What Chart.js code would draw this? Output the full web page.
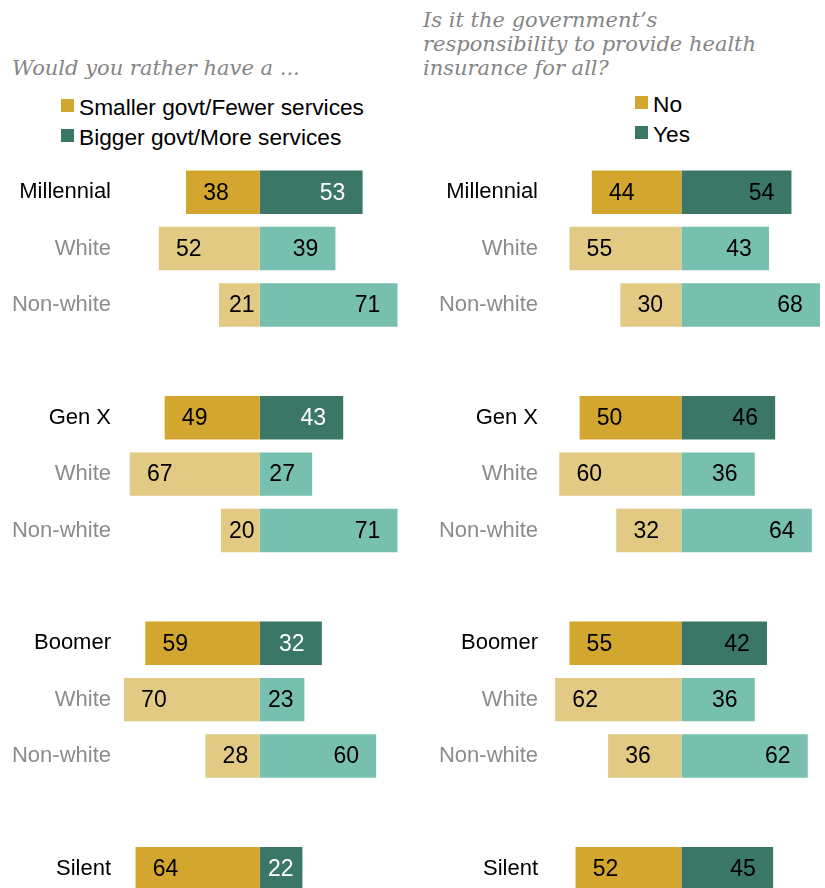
<!DOCTYPE html>
<html>
<head>
<meta charset="utf-8">
<script src="https://cdn.jsdelivr.net/npm/chart.js@4/dist/chart.umd.min.js"></script>
<style>
  html, body { margin:0; padding:0; background:#fff; overflow:hidden; }
  #wrap { position:relative; width:825px; height:888px; overflow:hidden; background:#fff; }
  .title { position:absolute; font-family:"DejaVu Serif", Georgia, serif; font-style:italic; font-size:21px; line-height:24px; color:#858585; white-space:nowrap; }
  .legend { position:absolute; font-family:"Liberation Sans", Arial, sans-serif; font-size:22.7px; line-height:30px; color:#000; white-space:nowrap; }
  .legend .row { position:relative; height:30px; padding-left:18px; }
  .legend .sw { position:absolute; left:0; top:7px; width:13px; height:13px; }
  .cv { position:absolute; top:0; }
</style>
</head>
<body>
<div id="wrap">
  <div class="title" style="left:12px; top:56px;">Would you rather have a ...</div>
  <div class="title" style="left:423px; top:8px;">Is it the government’s<br>responsibility to provide health<br>insurance for all?</div>
  <div class="legend" id="leg1" style="left:61px; top:92px;"></div>
  <div class="legend" id="leg2" style="left:635px; top:89px;"></div>
  <canvas id="c1" class="cv" style="left:0px;" width="420" height="920"></canvas>
  <canvas id="c2" class="cv" style="left:420px;" width="405" height="920"></canvas>
</div>
<script>
// ---- Data ----
const categories = ["Millennial","White","Non-white","","Gen X","White","Non-white","","Boomer","White","Non-white","","Silent"];
const generations = ["Millennial","Gen X","Boomer","Silent"];
const leftSeries = ["Smaller govt/Fewer services","Bigger govt/More services"];
const smallerGovt = [38,52,21,null,49,67,20,null,59,70,28,null,64];
const biggerGovt  = [53,39,71,null,43,27,71,null,32,23,60,null,22];
const rightSeries = ["No","Yes"];
const healthNo  = [44,55,30,null,50,60,32,null,55,62,36,null,52];
const healthYes = [54,43,68,null,46,36,64,null,42,36,62,null,45];

// ---- Styles ----
const GOLD_DARK = "#D2A62F", GOLD_LIGHT = "#E2CA84";
const GREEN_DARK = "#3A7767", GREEN_LIGHT = "#77BFAF";
const isGen = i => generations.includes(categories[i]);

function buildLegend(el, names, colors) {
  el.innerHTML = names.map((n,i) =>
    `<div class="row"><span class="sw" style="background:${colors[i]}"></span>${n}</div>`).join("");
}
buildLegend(document.getElementById("leg1"), leftSeries, [GOLD_DARK, GREEN_DARK]);
buildLegend(document.getElementById("leg2"), rightSeries, [GOLD_DARK, GREEN_DARK]);

const valueLabels = {
  id: "valueLabels",
  afterDatasetsDraw(chart, args, opts) {
    const ctx = chart.ctx;
    const xs = chart.scales.x;
    const zero = xs.getPixelForValue(0);
    ctx.save();
    ctx.font = '23px "Liberation Sans", Arial, sans-serif';
    ctx.textAlign = "center";
    ctx.textBaseline = "middle";
    chart.data.datasets.forEach((ds, di) => {
      const meta = chart.getDatasetMeta(di);
      meta.data.forEach((el, i) => {
        const v = ds.data[i];
        if (v === null || v === undefined) return;
        let cx;
        if (v < 0) {
          cx = Math.min(el.x + 30, zero - 18);
        } else {
          cx = Math.max(el.x - 30, zero + 21);
        }
        ctx.fillStyle = (opts.whiteOnDark && v > 0 && isGen(i)) ? "#fff" : "#000";
        ctx.fillText(String(Math.abs(v)), cx, el.y + 1);
      });
    });
    ctx.restore();
  }
};

function makeChart(id, negVals, posVals, names, xmin, xmax, axisW, padRight, whiteOnDark) {
  return new Chart(document.getElementById(id), {
    type: "bar",
    data: {
      labels: categories,
      datasets: [
        { label: names[0], data: negVals.map(v => v === null ? null : -v),
          backgroundColor: c => isGen(c.dataIndex) ? GOLD_DARK : GOLD_LIGHT },
        { label: names[1], data: posVals.slice(),
          backgroundColor: c => isGen(c.dataIndex) ? GREEN_DARK : GREEN_LIGHT }
      ]
    },
    options: {
      indexAxis: "y",
      responsive: false,
      animation: false,
      devicePixelRatio: 1,
      layout: { padding: { top: 164, bottom: 23, left: 0, right: padRight } },
      datasets: { bar: { barPercentage: 0.77, categoryPercentage: 1, borderWidth: 0 } },
      plugins: { legend: { display: false }, tooltip: { enabled: false }, valueLabels: { whiteOnDark } },
      scales: {
        x: { display: false, stacked: true, min: xmin, max: xmax },
        y: {
          stacked: true,
          grid: { display: false, drawTicks: false },
          border: { display: false },
          afterFit: s => { s.width = axisW; },
          ticks: {
            autoSkip: false,
            padding: 9,
            font: { family: '"Liberation Sans", Arial, sans-serif', size: 22 },
            color: c => isGen(c.index) ? "#000" : "#8c8c8c"
          }
        }
      }
    },
    plugins: [valueLabels]
  });
}

makeChart("c1", smallerGovt, biggerGovt, leftSeries, -72, 80, 120, 5, true);
makeChart("c2", healthNo, healthYes, rightSeries, -66, 69, 127, 3, false);
</script>
</body>
</html>
